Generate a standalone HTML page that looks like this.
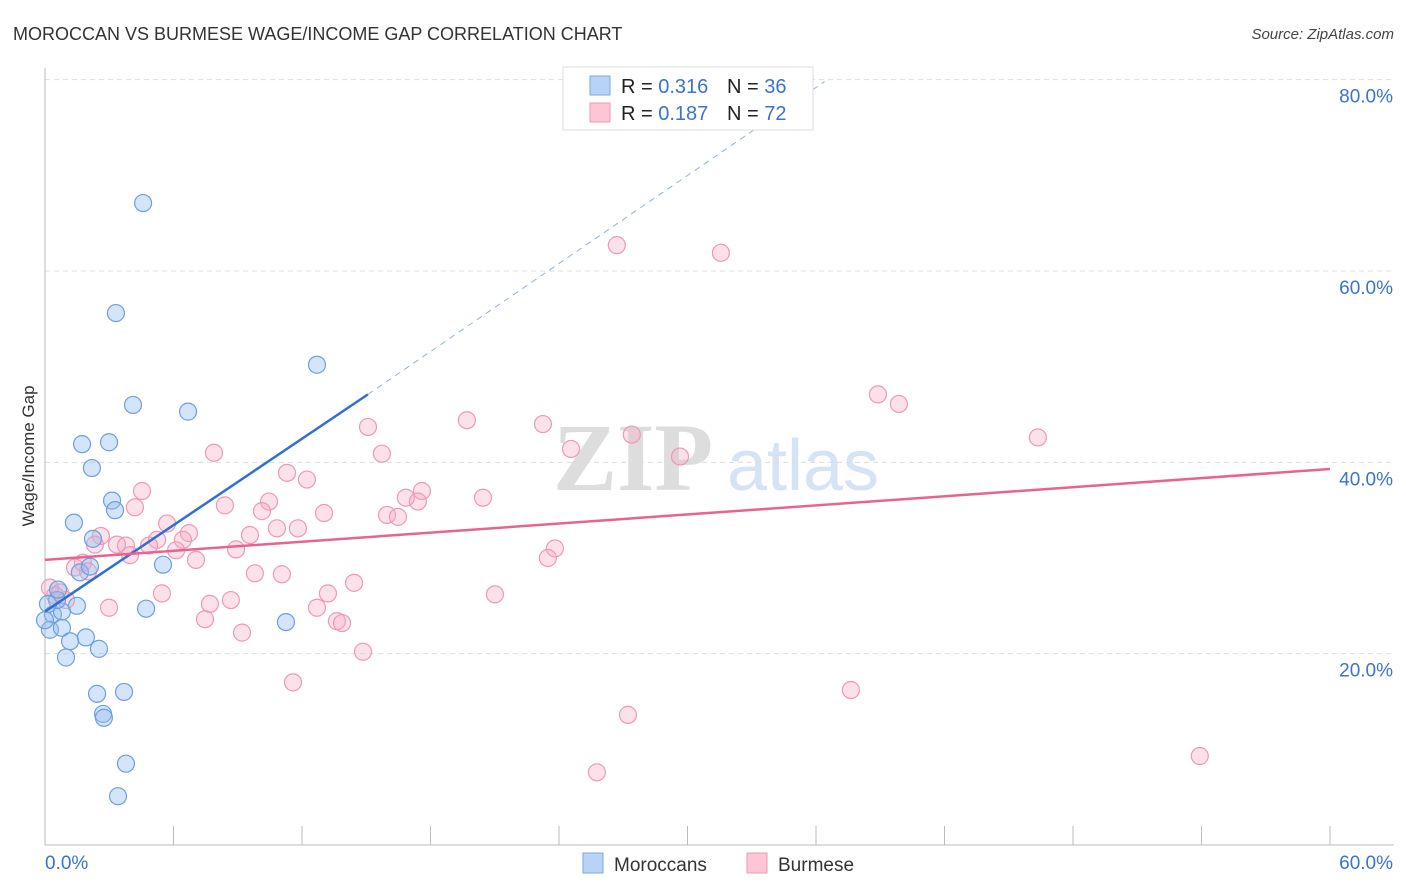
<!DOCTYPE html>
<html><head><meta charset="utf-8">
<style>
body{margin:0;background:#fff;font-family:"Liberation Sans",sans-serif;}
svg{display:block}
</style></head>
<body>
<svg id="chart" width="1406" height="892" xmlns="http://www.w3.org/2000/svg" font-family="Liberation Sans, sans-serif">
<text x="13" y="40" font-size="18" fill="#333">MOROCCAN VS BURMESE WAGE/INCOME GAP CORRELATION CHART</text>
<text x="1394" y="39" font-size="15" fill="#444" text-anchor="end" font-style="italic">Source: ZipAtlas.com</text>
<g>
<text x="633" y="490" font-size="96" fill="#ddd" font-family="Liberation Serif, serif" text-anchor="middle" font-weight="bold">ZIP</text>
<text x="803" y="490" font-size="72" fill="#d5e3f5" text-anchor="middle">atlas</text>
</g>
<g id="grid"></g>
<g id="axes"></g>
<g id="pts"></g>
<g id="trend"></g>
<text transform="translate(34,456) rotate(-90)" font-size="17" fill="#333" text-anchor="middle">Wage/Income Gap</text>
<g>
<rect x="563" y="67" width="250" height="63" fill="#fff" stroke="#ddd"/>
<rect x="590" y="76" width="20" height="19" fill="#b7d3f5" stroke="#7aa8e0"/>
<rect x="590" y="103" width="20" height="19" fill="#fcc6d6" stroke="#ee99b4"/>
<text x="621" y="93" font-size="20" fill="#222">R = <tspan fill="#3a73d0">0.316</tspan><tspan x="727">N = </tspan><tspan fill="#3a73d0">36</tspan></text>
<text x="621" y="120" font-size="20" fill="#222">R = <tspan fill="#3a73d0">0.187</tspan><tspan x="727">N = </tspan><tspan fill="#3a73d0">72</tspan></text>
</g>
<g>
<rect x="583" y="853" width="20" height="20" fill="#b7d3f5" stroke="#7aa8e0"/>
<text x="614" y="871" font-size="19" fill="#333">Moroccans</text>
<rect x="747" y="853" width="20" height="20" fill="#fcc6d6" stroke="#ee99b4"/>
<text x="778" y="871" font-size="19" fill="#333">Burmese</text>
</g>
</svg>
<script>
const blueX=[4.58,3.31,12.70,4.11,6.68,1.73,2.99,2.19,3.13,3.27,1.35,2.24,5.51,1.63,2.10,1.49,4.72,0.37,0.79,0.23,0.79,1.17,1.91,2.52,0.98,0.56,11.25,2.43,3.69,2.71,2.75,3.78,3.41,0.61,0.14,0];
const blueY=[67.1,55.6,50.2,46.0,45.3,41.9,42.1,39.4,36.0,35.0,33.7,32.0,29.3,28.5,29.1,25.0,24.7,24.1,24.4,22.5,22.7,21.3,21.7,20.5,19.6,25.6,23.3,15.8,16.0,13.7,13.3,8.5,5.1,26.7,25.2,23.5];
const pinkX=[26.70,31.56,38.89,39.87,19.70,23.25,15.08,27.40,46.36,24.56,7.89,15.73,29.65,11.30,12.23,4.53,17.60,20.45,16.85,10.46,8.40,17.41,4.20,10.13,13.03,15.97,16.48,5.70,10.83,11.81,9.57,2.61,6.72,5.23,6.44,2.33,3.36,3.78,4.86,3.97,6.12,8.92,23.81,23.48,7.05,1.77,1.40,2.01,9.80,11.06,14.43,0.23,0.70,5.46,13.21,21.01,8.68,0.98,7.70,2.99,12.70,7.47,13.63,13.87,9.20,14.85,11.58,37.63,27.22,25.77,53.92,0.47];
const pinkY=[62.7,61.9,47.1,46.1,44.4,44.0,43.7,42.9,42.6,41.4,41.0,40.9,40.6,38.9,38.2,37.0,37.0,36.3,36.3,35.9,35.5,35.9,35.3,34.9,34.7,34.5,34.3,33.6,33.1,33.1,32.4,32.3,32.6,31.9,31.9,31.4,31.4,31.3,31.3,30.3,30.8,30.9,31.0,30.0,29.8,29.5,29.0,28.6,28.4,28.3,27.4,26.9,26.4,26.3,26.3,26.2,25.6,25.6,25.2,24.8,24.8,23.6,23.4,23.2,22.2,20.2,17.0,16.2,13.6,7.6,9.3,26.1];
const yTicks=[20,40,60,80];
const blueTrend=[[0,24.4],[15.08,47.1],[36.4,79.8]];
const pinkTrend=[[0,29.8],[60,39.3]];
const NS="http://www.w3.org/2000/svg";
const sx=v=>45+v*(1330-45)/60;
const sy=v=>845-v*9.567;
function mk(tag,attrs,parent){const e=document.createElementNS(NS,tag);for(const k in attrs)e.setAttribute(k,attrs[k]);document.getElementById(parent).appendChild(e);return e;}
yTicks.forEach(t=>{
  const l=mk('line',{x1:45,x2:1394,y1:sy(t),y2:sy(t),stroke:'#ddd','stroke-dasharray':'5,4'},'grid');
  
  
  const tx=mk('text',{x:1393,y:sy(t)+23,'font-size':19,fill:'#3a73d0','text-anchor':'end'},'axes');
  tx.textContent=t.toFixed(1)+'%';
  
  
});
mk('line',{x1:45,x2:45,y1:68,y2:845,stroke:'#bbb'},'axes');
mk('line',{x1:45,x2:1394,y1:845,y2:845,stroke:'#bbb'},'axes');
for(let i=0;i<=10;i++){mk('line',{x1:sx(i*6),x2:sx(i*6),y1:826,y2:845,stroke:'#bbb'},'axes');}
let t0=mk('text',{x:45,y:869,'font-size':19,fill:'#3a73d0'},'axes');t0.textContent='0.0%';


let t1=mk('text',{x:1393,y:869,'font-size':19,fill:'#3a73d0','text-anchor':'end'},'axes');t1.textContent='60.0%';


pinkX.forEach((x,i)=>{
  const c=mk('circle',{cx:sx(x),cy:sy(pinkY[i]),r:8.5,fill:'rgba(248,170,195,0.35)',stroke:'#ee99b4','stroke-width':1.2},'pts');
  
  
});
blueX.forEach((x,i)=>{
  const c=mk('circle',{cx:sx(x),cy:sy(blueY[i]),r:8.5,fill:'rgba(150,190,240,0.4)',stroke:'#6d9fe0','stroke-width':1.2},'pts');
  
  
});
let b1=mk('line',{x1:sx(blueTrend[0][0]),y1:sy(blueTrend[0][1]),x2:sx(blueTrend[1][0]),y2:sy(blueTrend[1][1]),stroke:'#2e6fd6','stroke-width':2.5},'trend');


let b2=mk('line',{x1:sx(blueTrend[1][0]),y1:sy(blueTrend[1][1]),x2:sx(blueTrend[2][0]),y2:sy(blueTrend[2][1]),stroke:'#8fb0e0','stroke-width':1,'stroke-dasharray':'6,5'},'trend');


let p1=mk('line',{x1:sx(pinkTrend[0][0]),y1:sy(pinkTrend[0][1]),x2:sx(pinkTrend[1][0]),y2:sy(pinkTrend[1][1]),stroke:'#e8638e','stroke-width':2.5},'trend');


</script>
</body></html>
